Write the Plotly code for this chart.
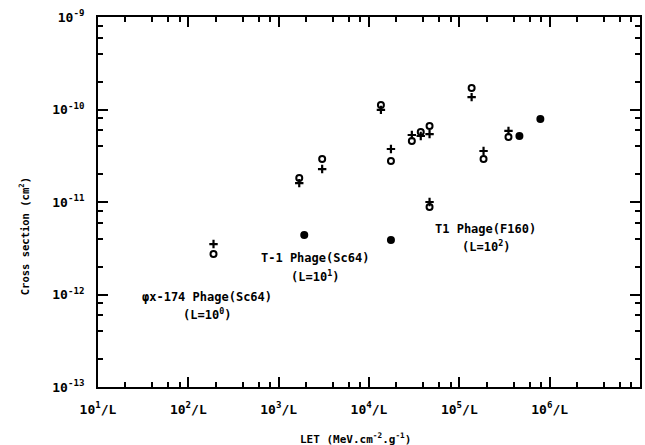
import plotly.graph_objects as go

# LET values (x, in units of 1/L) and cross sections (cm^2)
let_pairs = [190, 1690, 3030, 13550, 17500, 29800, 37400, 46800, 46800, 136800, 185400, 350000]
sigma_open = [2.74e-12, 1.82e-11, 2.92e-11, 1.12e-10, 2.77e-11, 4.56e-11, 5.71e-11, 6.63e-11,
              8.83e-12, 1.71e-10, 2.92e-11, 5.04e-11]
sigma_plus = [3.51e-12, 1.60e-11, 2.27e-11, 9.9e-11, 3.74e-11, 5.30e-11, 5.17e-11, 5.43e-11,
              1.0e-11, 1.36e-10, 3.56e-11, 5.86e-11]
let_filled = [1920, 17500, 462500, 788800]
sigma_filled = [4.40e-12, 3.88e-12, 5.17e-11, 7.89e-11]

x_tick_vals = [1e1, 1e2, 1e3, 1e4, 1e5, 1e6, 1e7]
x_tick_text = ["10<sup>1</sup>/L", "10<sup>2</sup>/L", "10<sup>3</sup>/L", "10<sup>4</sup>/L",
               "10<sup>5</sup>/L", "10<sup>6</sup>/L", ""]
y_tick_vals = [1e-13, 1e-12, 1e-11, 1e-10, 1e-9]
y_tick_text = ["10<sup>-13</sup>", "10<sup>-12</sup>", "10<sup>-11</sup>", "10<sup>-10</sup>", "10<sup>-9</sup>"]

x_minor = [m * 10**k for k in range(1, 7) for m in (2, 4, 6, 8)]
y_minor = [m * 10.0**k for k in range(-13, -9) for m in (2, 4, 6, 8)]

FONT = "DejaVu Sans Mono"

fig = go.Figure()
fig.add_trace(go.Scatter(x=let_pairs, y=sigma_open, mode="markers",
                         marker=dict(symbol="circle-open", size=6, color="black", line=dict(width=2, color="black")),
                         showlegend=False))
fig.add_trace(go.Scatter(x=let_pairs, y=sigma_plus, mode="markers",
                         marker=dict(symbol="cross-thin-open", size=6, color="black", line=dict(width=2.2, color="black")),
                         showlegend=False))
fig.add_trace(go.Scatter(x=let_filled, y=sigma_filled, mode="markers",
                         marker=dict(symbol="circle", size=8, color="black"),
                         showlegend=False))

labels = [
    (2.202, -12.027, "φx-174 Phage(Sc64)"),
    (2.202, -12.211, "(L=10<sup>0</sup>)"),
    (3.404, -11.605, "T-1 Phage(Sc64)"),
    (3.404, -11.800, "(L=10<sup>1</sup>)"),
    (5.290, -11.292, "T1 Phage(F160)"),
    (5.290, -11.476, "(L=10<sup>2</sup>)"),
]
for lx, ly, txt in labels:
    fig.add_annotation(x=lx, y=ly, xref="x", yref="y", text="<b>" + txt + "</b>", showarrow=False,
                       xanchor="center", yanchor="middle",
                       font=dict(family=FONT, size=12, color="black"))

fig.add_annotation(x=0.476, y=-0.138, xref="paper", yref="paper",
                   text="<b>LET (MeV.cm<sup>-2</sup>.g<sup>-1</sup>)</b>", showarrow=False,
                   xanchor="center", yanchor="middle",
                   font=dict(family=FONT, size=11, color="black"))
fig.add_annotation(x=-0.138, y=0.408, xref="paper", yref="paper",
                   text="<b>Cross section (cm<sup>2</sup>)</b>", showarrow=False, textangle=-90,
                   xanchor="center", yanchor="middle",
                   font=dict(family=FONT, size=10.5, color="black"))

fig.update_xaxes(type="log", range=[1, 7], tickvals=x_tick_vals, ticktext=["<b>" + t + "</b>" if t else "" for t in x_tick_text],
                 ticks="inside", ticklen=10, tickwidth=1.5, tickcolor="black",
                 showline=True, linewidth=2, linecolor="black", mirror="ticks",
                 showgrid=False, zeroline=False, ticklabelstandoff=9,
                 minor=dict(tickvals=x_minor, ticks="inside", ticklen=5, tickwidth=1.5,
                            tickcolor="black", showgrid=False),
                 tickfont=dict(family=FONT, size=13, color="black"))
fig.update_yaxes(type="log", range=[-13, -9], tickvals=y_tick_vals, ticktext=["<b>" + t + "</b>" for t in y_tick_text],
                 ticks="inside", ticklen=10, tickwidth=1.5, tickcolor="black",
                 showline=True, linewidth=2, linecolor="black", mirror="ticks",
                 showgrid=False, zeroline=False, ticklabelstandoff=9,
                 minor=dict(tickvals=y_minor, ticks="inside", ticklen=5, tickwidth=1.5,
                            tickcolor="black", showgrid=False),
                 tickfont=dict(family=FONT, size=13, color="black"))

fig.update_layout(width=645, height=445, margin=dict(l=98, r=3, t=17, b=58),
                  paper_bgcolor="white", plot_bgcolor="white", showlegend=False)

fig.write_html("out.html")
